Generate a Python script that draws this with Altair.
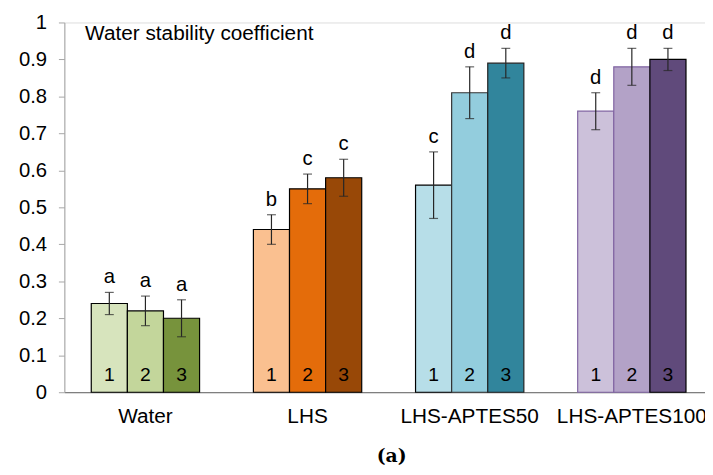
import altair as alt
import pandas as pd

groups = ["Water", "LHS", "LHS-APTES50", "LHS-APTES100"]
subs = ["1", "2", "3"]
values = [[0.24, 0.22, 0.20], [0.44, 0.55, 0.58], [0.56, 0.81, 0.89], [0.76, 0.88, 0.90]]
err_low = [[0.21, 0.18, 0.15], [0.40, 0.51, 0.53], [0.47, 0.74, 0.85], [0.71, 0.83, 0.87]]
err_high = [[0.27, 0.26, 0.25], [0.48, 0.59, 0.63], [0.65, 0.88, 0.93], [0.81, 0.93, 0.93]]
letters = [["a", "a", "a"], ["b", "c", "c"], ["c", "d", "d"], ["d", "d", "d"]]
fills = [["#d7e4bd", "#c3d69b", "#77933c"],
         ["#fac090", "#e46c0a", "#984807"],
         ["#b7dee8", "#93cddd", "#31859c"],
         ["#ccc1da", "#b3a2c7", "#604a7b"]]
strokes = [["#000000", "#000000", "#000000"],
           ["#000000", "#000000", "#000000"],
           ["#000000", "#333333", "#222222"],
           ["#8064a2", "#8064a2", "#000000"]]
y_ticks = [0, 0.1, 0.2, 0.3, 0.4, 0.5, 0.6, 0.7, 0.8, 0.9, 1]
chart_title = "Water stability coefficient"
caption = "(a)"

rows = []
for gi, g in enumerate(groups):
    for si, s in enumerate(subs):
        rows.append({"group": g, "sub": s, "key": g + s, "value": values[gi][si],
                     "lo": err_low[gi][si], "hi": err_high[gi][si],
                     "letter": letters[gi][si]})
df = pd.DataFrame(rows)
keys = list(df["key"])
fill_range = [c for row in fills for c in row]
stroke_range = [c for row in strokes for c in row]

x_enc = alt.X("group:N", sort=groups,
              scale=alt.Scale(range=[0, 656], paddingInner=0.332, paddingOuter=0.166),
              axis=alt.Axis(title=None, labelAngle=0, ticks=False, domainColor="#7f7f7f",
                            domainWidth=1.3, labelFontSize=21, labelPadding=14,
                            labelColor="#000000", labelOverlap=False))
xo_enc = alt.XOffset("sub:N", sort=subs, scale=alt.Scale(paddingInner=0, paddingOuter=0))
y_axis = alt.Axis(title=None, values=y_ticks, format="~g", grid=False, tickSize=6,
                  labelPadding=12, domainColor="#a6a6a6", tickColor="#a6a6a6",
                  labelFontSize=20.5, labelColor="#000000", labelOverlap=False,
                  tickCount=11)
y_scale = alt.Scale(domain=[0, 1], nice=False)


def yq(field):
    return alt.Y(field, type="quantitative", scale=y_scale, axis=y_axis)


base = alt.Chart(df)

bars = base.mark_bar(strokeWidth=1.2).encode(
    x=x_enc, xOffset=xo_enc,
    y=yq("value"),
    fill=alt.Fill("key:N", scale=alt.Scale(domain=keys, range=fill_range), legend=None),
    stroke=alt.Stroke("key:N", scale=alt.Scale(domain=keys, range=stroke_range), legend=None),
)

err = base.mark_rule(color="#262626", strokeWidth=1.2).encode(
    x=x_enc, xOffset=xo_enc, y=yq("lo"), y2="hi:Q")
cap_hi = base.mark_tick(color="#262626", size=9, thickness=1.2).encode(
    x=x_enc, xOffset=xo_enc, y=yq("hi"))
cap_lo = base.mark_tick(color="#262626", size=9, thickness=1.2).encode(
    x=x_enc, xOffset=xo_enc, y=yq("lo"))

letter_txt = base.mark_text(dy=-9, baseline="alphabetic", fontSize=20.5, color="#000000").encode(
    x=x_enc, xOffset=xo_enc, y=yq("hi"), text="letter:N")
num_txt = base.mark_text(dy=-11, baseline="alphabetic", fontSize=19.5, color="#000000").encode(
    x=x_enc, xOffset=xo_enc, y=alt.datum(0, scale=y_scale, axis=y_axis), text="sub:N")

title_txt = alt.Chart(pd.DataFrame({"t": [chart_title]})).mark_text(
    align="left", baseline="alphabetic", fontSize=21, color="#000000").encode(
    x=alt.value(21), y=alt.value(18), text="t:N")

chart = alt.layer(bars, err, cap_hi, cap_lo, letter_txt, num_txt, title_txt).properties(
    width=648, height=374,
    autosize=alt.AutoSizeParams(type="none"),
    padding={"left": 57, "top": 12, "right": 0, "bottom": 73},
    title=alt.TitleParams(caption, orient="bottom", font="DejaVu Serif", fontWeight="bold",
                          fontSize=19, frame="group", anchor="middle", dx=7, offset=21,
                          color="#000000"),
).configure_view(stroke=None).configure(font="Liberation Sans")

chart.save("out.html", embed_options={"renderer": "svg", "actions": False})
